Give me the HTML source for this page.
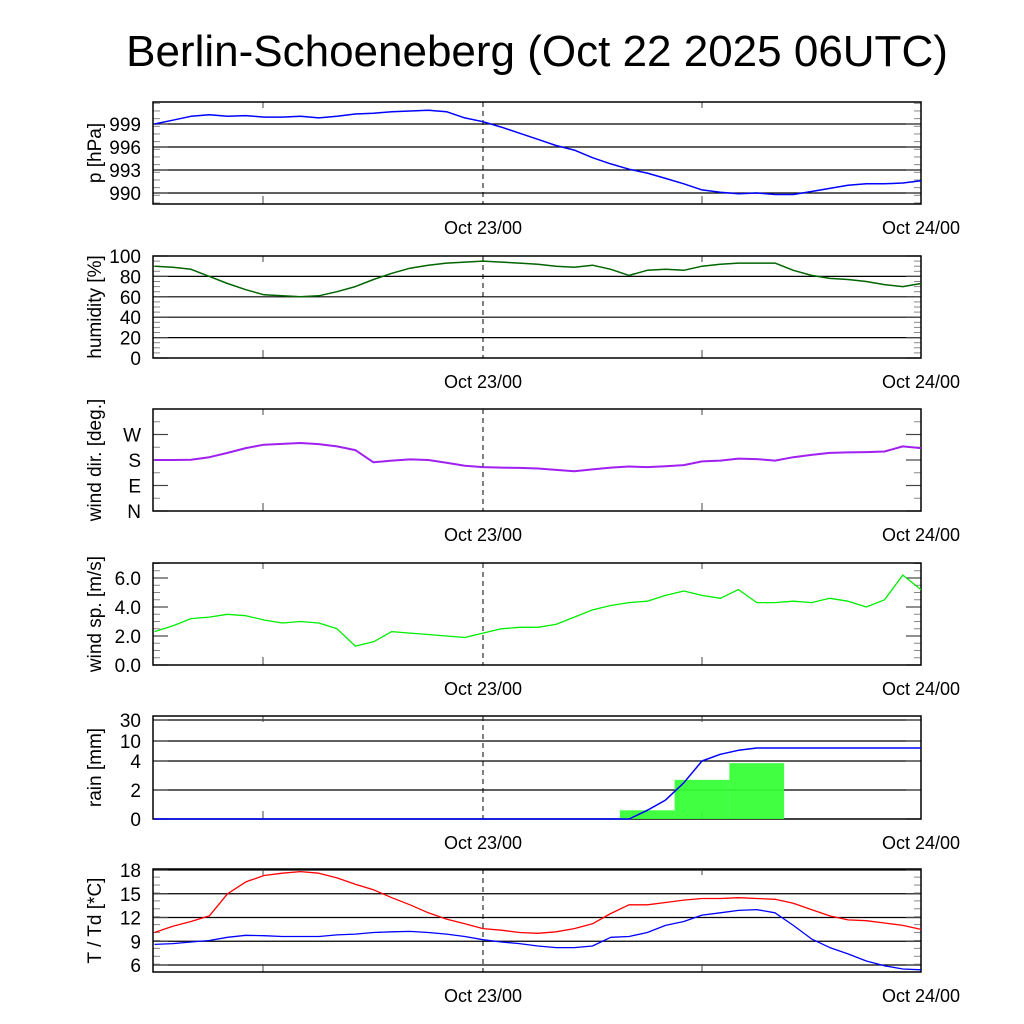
<!DOCTYPE html>
<html><head><meta charset="utf-8"><style>
html,body{margin:0;padding:0;background:#fff}
svg{display:block;font-family:"Liberation Sans",sans-serif}
</style></head><body>
<svg id="chart" width="1024" height="1024" viewBox="0 0 1024 1024">
<rect width="1024" height="1024" fill="#fff"/>
<text x="537" y="66" font-size="44" text-anchor="middle">Berlin-Schoeneberg (Oct 22 2025 06UTC)</text>
</svg>
<script>
// hours relative to Oct 23 00UTC
const hours = [-18,-17,-16,-15,-14,-13,-12,-11,-10,-9,-8,-7,-6,-5,-4,-3,-2,-1,0,1,2,3,4,5,6,7,8,9,10,11,12,13,14,15,16,17,18,19,20,21,22,23,24];
const pressure = [999.0,999.5,1000.0,1000.2,1000.0,1000.1,999.9,999.9,1000.0,999.8,1000.0,1000.3,1000.4,1000.6,1000.7,1000.8,1000.6,999.8,999.3,998.6,997.8,997.0,996.2,995.6,994.6,993.8,993.1,992.6,991.9,991.2,990.4,990.1,989.9,990.0,989.8,989.8,990.2,990.6,991.0,991.2,991.2,991.3,991.6];
const humidity = [90,89,87,80,73,67,62,61,60,61,65,70,77,83,88,91,93,94,95,94,93,92,90,89,91,87,81,86,87,86,90,92,93,93,93,86,81,78,77,75,72,70,73];
const windDir = [180,180,181,190,205,222,234,237,240,236,228,215,172,178,182,180,170,160,155,153,152,150,145,140,147,153,157,155,158,162,175,178,185,183,178,190,198,205,207,208,210,228,222];
const windSpeed = [2.3,2.7,3.2,3.3,3.5,3.4,3.1,2.9,3.0,2.9,2.5,1.3,1.6,2.3,2.2,2.1,2.0,1.9,2.2,2.5,2.6,2.6,2.8,3.3,3.8,4.1,4.3,4.4,4.8,5.1,4.8,4.6,5.2,4.3,4.3,4.4,4.3,4.6,4.4,4.0,4.5,6.2,5.2];
const rainCum = [0,0,0,0,0,0,0,0,0,0,0,0,0,0,0,0,0,0,0,0,0,0,0,0,0,0,0,0.6,1.3,2.5,4.0,6.0,7.2,7.9,7.9,7.9,7.9,7.9,7.9,7.9,7.9,7.9,7.9];
const rainBinStart = [7.5,10.5,13.5];
const rainBinEnd = [10.5,13.5,16.5];
const rainBinValue = [0.6,2.7,3.85];
const temperature = [10.1,10.9,11.5,12.2,15.0,16.5,17.3,17.6,17.8,17.6,17.0,16.2,15.5,14.5,13.6,12.6,11.8,11.2,10.6,10.4,10.1,10.0,10.2,10.6,11.2,12.5,13.6,13.6,13.9,14.2,14.4,14.4,14.5,14.4,14.3,13.8,13.0,12.2,11.7,11.6,11.3,11.0,10.5];
const dewpoint = [8.6,8.7,8.9,9.1,9.5,9.75,9.7,9.6,9.6,9.6,9.8,9.9,10.1,10.2,10.25,10.1,9.9,9.6,9.2,8.9,8.7,8.4,8.2,8.2,8.4,9.5,9.6,10.1,11.0,11.5,12.3,12.6,12.9,13.0,12.6,11.0,9.3,8.2,7.4,6.5,5.9,5.5,5.4];
const pTicks = [990,993,996,999], pLabels = ["990","993","996","999"];
const hTicks = [0,20,40,60,80,100];
const dTicks = [0,90,180,270], dLabels = ["N","E","S","W"];
const sTicks = [0,2,4,6], sLabels = ["0.0","2.0","4.0","6.0"];
const rTicks = [0,2,4,10,30];
const tTicks = [6,9,12,15,18];

const NS="http://www.w3.org/2000/svg", svg=document.getElementById('chart');
const X0=153,X1=921;
const xs = h => 483 + h*(X1-483)/24;
function mk(tag,attrs,parent){const e=document.createElementNS(NS,tag);for(const k in attrs)e.setAttribute(k,attrs[k]);(parent||svg).appendChild(e);return e;}
function lin(v0,v1,y0,y1){return v=>y0+(v-v0)*(y1-y0)/(v1-v0);}
function pw(vals,ys){return v=>{for(let i=0;i<vals.length-1;i++){if(v<=vals[i+1]||i===vals.length-2){return ys[i]+(v-vals[i])*(ys[i+1]-ys[i])/(vals[i+1]-vals[i]);}}};}

function panel(name,top,bot,ylab,ticks,labels,ys,grid,minorStep,vmin,vmax){
  const g=mk('g',{});
  
  
  if(grid){ticks.forEach(t=>{const y=ys(t);if(y>top+0.5&&y<bot-0.5){const l=mk('line',{x1:X0,x2:X1,y1:y,y2:y,stroke:'#000','stroke-width':1.2},g);}});}
  if(minorStep){for(let v=vmin;v<=vmax+1e-9;v+=minorStep){const y=ys(v);if(y<top||y>bot)continue;mk('line',{x1:X0,x2:X0+7,y1:y,y2:y,stroke:'#888','stroke-width':1},g);mk('line',{x1:X1-7,x2:X1,y1:y,y2:y,stroke:'#888','stroke-width':1},g);}}
  ticks.forEach((t,i)=>{const y=ys(t);
    mk('line',{x1:X0,x2:X0+15,y1:y,y2:y,stroke:'#444','stroke-width':1.2},g);
    mk('line',{x1:X1-15,x2:X1,y1:y,y2:y,stroke:'#444','stroke-width':1.2},g);
    const tx=mk('text',{x:X0-12,y:y+7,'font-size':19,'text-anchor':'end'},g);tx.textContent=labels[i];
    });
  [263,702].forEach(x=>{mk('line',{x1:x,x2:x,y1:bot-8,y2:bot,stroke:'#444'},g);mk('line',{x1:x,x2:x,y1:top,y2:top+6,stroke:'#444'},g);});
  const dl=mk('line',{x1:483,x2:483,y1:top,y2:bot,stroke:'#000','stroke-dasharray':'5,4','stroke-width':1},g);
  
  mk('rect',{x:X0,y:top,width:X1-X0,height:bot-top,fill:'none',stroke:'#000','stroke-width':1.5},g);
  const a=mk('text',{x:483,y:bot+30,'font-size':18,'text-anchor':'middle'},g);a.textContent='Oct 23/00';
  
  const b=mk('text',{x:921,y:bot+30,'font-size':18,'text-anchor':'middle'},g);b.textContent='Oct 24/00';
  
  const cy=(top+bot)/2;
  const yl=mk('text',{x:0,y:0,'font-size':19,'text-anchor':'middle',transform:`translate(101,${cy}) rotate(-90)`},g);yl.textContent=ylab;
  
  return g;
}
function line(name,vals,ys,color,w){
  const d=vals.map((v,i)=>(i?'L':'M')+xs(hours[i]).toFixed(1)+','+ys(v).toFixed(1)).join(' ');
  const p=mk('path',{d:d,fill:'none',stroke:color,'stroke-width':w||1.5,'stroke-linejoin':'round'});
  
  
}

const yP=lin(999,990,124,193);
panel('pressure',102,204,'p [hPa]',pTicks,pLabels,yP,true,1,988.7,1001.9);
line('pressure-line',pressure,yP,'#0000ff');
const yH=lin(0,100,358,256);
panel('humidity',256,358,'humidity [%]',hTicks,hTicks.map(String),yH,true,5,0,100);
line('humidity-line',humidity,yH,'#006400');
const yD=lin(0,360,511,409);
panel('wind-direction',409,511,'wind dir. [deg.]',dTicks,dLabels,yD,false,45,0,360);
line('wind-direction-line',windDir,yD,'#a020f0',2);
const yS=lin(0,6,665,578);
panel('wind-speed',563,665,'wind sp. [m/s]',sTicks,sLabels,yS,false,0.5,0,7);
line('wind-speed-line',windSpeed,yS,'#00ee00',1.3);
const yR=pw(rTicks,[819,790,761,741,720]);
panel('rain',716,819,'rain [mm]',rTicks,rTicks.map(String),yR,true,0,0,0);
rainBinValue.forEach((v,i)=>{
  const r=mk('rect',{x:xs(rainBinStart[i]),y:yR(v),width:xs(rainBinEnd[i])-xs(rainBinStart[i]),height:819-yR(v),fill:'#33ff33','fill-opacity':0.93});
  
  
});
line('rain-cumulative-line',rainCum,yR,'#0000ff');
const yT=lin(6,18,965,870);
panel('temperature',869,972,'T / Td [*C]',tTicks,tTicks.map(String),yT,true,1,5.1,18.1);
line('temperature-line',temperature,yT,'#ff0000',1.3);
line('dewpoint-line',dewpoint,yT,'#0000ff',1.3);
</script>
</body></html>
